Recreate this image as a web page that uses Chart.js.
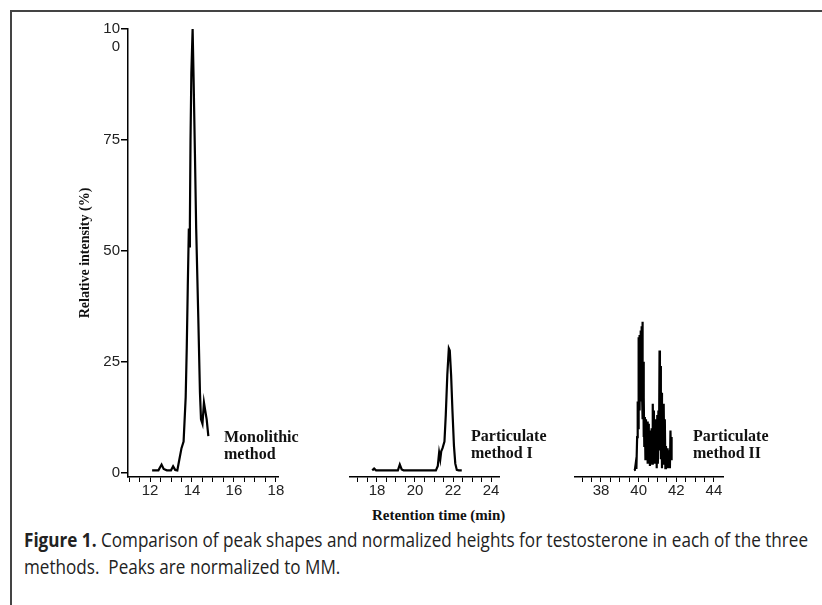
<!DOCTYPE html>
<html>
<head>
<meta charset="utf-8">
<script src="https://cdn.jsdelivr.net/npm/chart.js@4.4.1/dist/chart.umd.min.js"></script>
<style>
    html, body { margin: 0; padding: 0; background: #fff; }
    body { width: 822px; height: 605px; position: relative; overflow: hidden; }
    .frame-top { position: absolute; left: 10px; top: 10px; right: 0; border-top: 2px solid #444; }
    .frame-left { position: absolute; left: 10px; top: 10px; bottom: 0; border-left: 2px solid #444; }
    .panel { position: absolute; top: 0; height: 500px; }
    .note { position: absolute; font: bold 16px "Liberation Serif", "Times New Roman", serif; line-height: 17px; color: #111; }
    #xtitle { position: absolute; left: 372px; top: 507px; font: bold 15px "Liberation Serif", "Times New Roman", serif; color: #111; }
    #caption { position: absolute; left: 24px; top: 526px; font-size: 20px; line-height: 27px; color: #222;
        font-family: "Open Sans", "Liberation Sans", sans-serif;
        white-space: nowrap; transform-origin: left top; }
</style>
</head>
<body>
<div class="frame-top"></div>
<div class="frame-left"></div>
<div class="panel" id="panel_mono" style="left:0; width:290px;"></div>
<div class="panel" id="panel_p1" style="left:340px; width:170px;"></div>
<div class="panel" id="panel_p2" style="left:565px; width:170px;"></div>
<div class="note" style="left:224px; top:428px;">Monolithic<br>method</div>
<div class="note" style="left:471px; top:427px;">Particulate<br>method I</div>
<div class="note" style="left:693px; top:427px;">Particulate<br>method II</div>
<div id="xtitle">Retention time (min)</div>
<div id="caption"><span id="cap1"><b>Figure 1.</b> Comparison of peak shapes and normalized heights for testosterone in each of the three</span><br><span>methods.&nbsp; Peaks are normalized to MM.</span></div>
<script>
// intensities in % of the monolithic peak, times in minutes
const monoTime = [12.1, 12.4, 12.55, 12.65, 12.8, 13.0, 13.1, 13.2, 13.3, 13.4, 13.5, 13.6, 13.7, 13.75, 13.8, 13.85, 13.88, 13.9, 13.93, 13.97, 14.03, 14.08, 14.14, 14.2, 14.3, 14.38, 14.43, 14.5, 14.57, 14.63, 14.7, 14.78];
const monoIntensity = [0.5, 0.5, 1.8, 0.8, 0.5, 0.5, 1.4, 0.6, 0.5, 3, 5.5, 7, 17, 28, 42, 55, 51, 56, 75, 90, 100, 88, 72, 55, 35, 18, 12, 11, 15.8, 14, 12, 8.2];

const partITime = [17.75, 17.85, 17.95, 18.1, 19.1, 19.2, 19.3, 19.4, 21.1, 21.2, 21.27, 21.33, 21.38, 21.45, 21.55, 21.62, 21.7, 21.78, 21.83, 21.9, 21.97, 22.05, 22.12, 22.2, 22.3, 22.46];
const partIIntensity = [0.5, 0.9, 0.5, 0.5, 0.5, 1.8, 0.7, 0.5, 0.5, 1.5, 4.5, 3, 4.8, 5.5, 7, 13, 22, 28, 27.5, 22, 14, 6, 2, 0.6, 0.5, 0.5];

const partIITime = [39.75, 39.80, 39.85, 39.88, 39.92, 39.95, 39.98,
    40.00, 40.02, 40.04, 40.06, 40.08, 40.10, 40.12, 40.14, 40.16, 40.18, 40.20, 40.22, 40.24, 40.26, 40.28, 40.30,
    40.33, 40.36, 40.39, 40.42, 40.45, 40.48, 40.51, 40.54, 40.57, 40.60, 40.63, 40.66, 40.69, 40.72, 40.75, 40.78,
    40.81, 40.84, 40.87, 40.90, 40.93, 40.96, 40.99, 41.02, 41.05, 41.08, 41.11, 41.13, 41.15,
    41.18, 41.21, 41.24, 41.27, 41.30, 41.33, 41.36, 41.39, 41.42, 41.45, 41.48, 41.51, 41.54, 41.57, 41.60,
    41.63, 41.66, 41.69, 41.72, 41.75];
const partIIIntensity = [0.5, 0.6, 2.2, 0.8, 8, 16, 10,
    30.5, 17, 31, 14, 30, 16, 32, 20, 33, 18, 34, 12, 25, 8, 17, 6,
    12.5, 3, 12, 4, 11.5, 2, 11, 5, 9.5, 1.5, 9, 3, 10, 2, 15.5, 4,
    14, 2, 12, 3, 8.5, 1, 13, 2, 14, 5, 27.5, 10, 24,
    3, 18, 1, 13, 2, 15.5, 3, 12, 1, 6, 3, 5.5, 1, 4, 2,
    5, 1, 9.5, 3, 8];

const yTicks = [0, 25, 50, 75, 100];
const monoAxis = { min: 10.95, max: 18.1, first: 11, last: 18, labels: [12, 14, 16, 18] };
const partIAxis = { min: 16.58, max: 24.42, first: 17, last: 24, labels: [18, 20, 22, 24] };
const partIIAxis = { min: 36.62, max: 44.48, first: 37, last: 44, labels: [38, 40, 42, 44] };

const tickFont = { family: '"Liberation Sans", Arial, sans-serif', size: 15 };

function xScale(axis) {
    return {
        type: 'linear',
        min: axis.min,
        max: axis.max,
        afterBuildTicks: scale => {
            const ticks = [];
            for (let v = axis.first; v <= axis.last; v += 0.5) ticks.push({ value: v });
            scale.ticks = ticks;
        },
        afterFit: scale => { scale.height = 23; },
        border: { display: true, color: '#000', width: 1.5 },
        grid: { drawOnChartArea: false, drawTicks: true, tickLength: 5, color: '#000', lineWidth: 1 },
        ticks: {
            autoSkip: false,
            maxRotation: 0,
            padding: 0,
            color: '#222',
            font: tickFont,
            callback: v => axis.labels.includes(v) ? String(v) : ''
        }
    };
}

function yScale(show) {
    return {
        type: 'linear',
        min: -1,
        max: 100,
        display: show,
        afterBuildTicks: scale => { scale.ticks = yTicks.map(v => ({ value: v })); },
        afterFit: scale => { scale.width = show ? 128 : 0; },
        border: { display: true, color: '#000', width: 1.5 },
        grid: { drawOnChartArea: false, drawTicks: true, tickLength: 7, color: '#000', lineWidth: 1.5 },
        ticks: {
            padding: 1,
            color: '#222',
            font: tickFont,
            callback: v => v === 100 ? ['', '10', '0'] : String(v)
        },
        title: {
            display: true,
            text: 'Relative intensity (%)',
            color: '#111',
            font: { family: '"Liberation Serif", "Times New Roman", serif', size: 14, weight: 'bold' },
            padding: { top: 77, bottom: 0 }
        }
    };
}

function drawPanel(id, times, values, axis, showY, padLeft, padRight) {
    const container = document.getElementById(id);
    const canvas = document.createElement('canvas');
    container.appendChild(canvas);

    new Chart(canvas, {
        type: 'line',
        data: {
            datasets: [{
                data: times.map((t, i) => ({ x: t, y: values[i] })),
                borderColor: '#000',
                borderWidth: 2.2,
                pointRadius: 0,
                tension: 0,
                fill: false,
                clip: false
            }]
        },
        options: {
            responsive: true,
            maintainAspectRatio: false,
            animation: false,
            layout: { padding: { top: 29, bottom: 0, left: padLeft, right: padRight } },
            scales: {
                x: xScale(axis),
                y: yScale(showY)
            },
            plugins: {
                legend: { display: false },
                tooltip: { enabled: false }
            }
        }
    });
}

drawPanel('panel_mono', monoTime, monoIntensity, monoAxis, true, 0, 12);
drawPanel('panel_p1', partITime, partIIntensity, partIAxis, false, 10, 11);
drawPanel('panel_p2', partIITime, partIIIntensity, partIIAxis, false, 10, 12);

// squeeze the caption to the width it has in the figure
const cap = document.getElementById('caption');
const w = document.getElementById('cap1').getBoundingClientRect().width;
if (w > 0) cap.style.transform = 'scaleX(' + (784 / w) + ')';
</script>
</body>
</html>
